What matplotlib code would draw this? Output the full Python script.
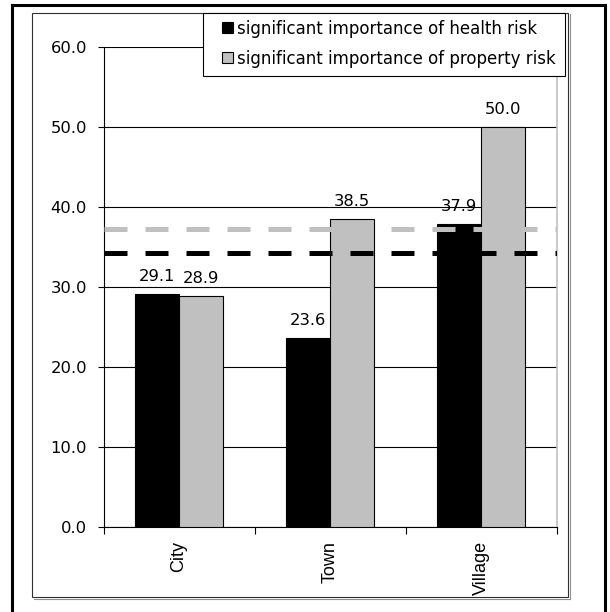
import matplotlib
matplotlib.use("Agg")
import matplotlib.pyplot as plt
from matplotlib.patches import Rectangle
from matplotlib.lines import Line2D
from matplotlib.legend_handler import HandlerPatch
import numpy as np

# ---- data -------------------------------------------------------------
categories = ["City", "Town", "Village"]
health_risk = [29.1, 23.6, 37.9]
property_risk = [28.9, 38.5, 50.0]
health_avg = 34.2
property_avg = 37.2
series_labels = ["significant importance of health risk",
                 "significant importance of property risk"]
y_ticks = [0, 10, 20, 30, 40, 50, 60]

# ---- styling ----------------------------------------------------------
plt.rcParams["font.family"] = ["DejaVu Sans"]
FS = 11.8
GREY = "#c0c0c0"
W, H = 610, 612

fig = plt.figure(figsize=(W / 100, H / 100), dpi=100)


def box(x0, y0, x1, y1):
    """Pixel box (top-left origin) -> figure-fraction rect."""
    return [x0 / W, 1 - y1 / H, (x1 - x0) / W, (y1 - y0) / H]


ax = fig.add_axes(box(103.5, 47, 556.5, 527))

x = np.arange(len(categories))
bw = 0.29
b1 = ax.bar(x - bw / 2, health_risk, bw, color="black", edgecolor="black",
            linewidth=0.8, zorder=3, label=series_labels[0])
b2 = ax.bar(x + bw / 2, property_risk, bw, color=GREY, edgecolor="black",
            linewidth=0.8, zorder=3, label=series_labels[1])

# average reference lines
ax.axhline(property_avg, color=GREY, linewidth=3.6,
           linestyle=(0, (4.6, 3.6)), zorder=4)
ax.axhline(health_avg, color="black", linewidth=3.6,
           linestyle=(0, (4.6, 3.6)), zorder=4)

# value labels
for bars, vals in ((b1, health_risk), (b2, property_risk)):
    for rect, v in zip(bars, vals):
        ax.annotate(f"{v:.1f}", (rect.get_x() + rect.get_width() / 2, v),
                    xytext=(0, 7), textcoords="offset points",
                    ha="center", va="bottom", fontsize=FS, zorder=5)

# y axis
ax.set_ylim(0, 60)
ax.set_yticks(y_ticks)
ax.set_yticklabels([f"{t:.1f}" for t in y_ticks])
ax.yaxis.grid(True, color="black", linewidth=0.8)
ax.set_axisbelow(True)
ax.tick_params(axis="y", length=4.3, width=0.8, pad=7.5, labelsize=FS)

# x axis: ticks between categories, labels at category centres
ax.set_xlim(-0.5, len(categories) - 0.5)
ax.set_xticks(np.arange(len(categories) + 1) - 0.5)
ax.set_xticklabels([])
ax.set_xticks(x, minor=True)
ax.set_xticklabels(categories, minor=True, rotation=90,
                   fontfamily="Liberation Sans", fontsize=13)
ax.tick_params(axis="x", which="major", length=5, width=0.8)
ax.tick_params(axis="x", which="minor", length=0, pad=10)

ax.spines["top"].set_visible(False)
ax.spines["right"].set_color(GREY)
ax.spines["right"].set_linewidth(1.2)
for s in ("left", "bottom"):
    ax.spines[s].set_linewidth(0.8)


# legend: framed box with small square keys
def square_key(legend, orig_handle, xdescent, ydescent, width, height, fontsize):
    s = 7.9
    return Rectangle((-xdescent + width - s, -ydescent + (height - s) / 2), s, s)


fig.add_artist(Rectangle((203 / W, 1 - 76 / H), (565 - 203) / W, (76 - 12.5) / H,
                         transform=fig.transFigure, facecolor="white",
                         edgecolor="black", linewidth=0.8, zorder=5))
leg = fig.legend(handles=[b1.patches[0], b2.patches[0]], labels=series_labels,
                 loc="upper left", bbox_to_anchor=(222 / W, 1 - 19.5 / H),
                 bbox_transform=fig.transFigure, borderaxespad=0, borderpad=0,
                 fontsize=12, frameon=False, handlelength=0.66,
                 handletextpad=0.25, labelspacing=0.72,
                 handler_map={Rectangle: HandlerPatch(patch_func=square_key)})
leg.set_zorder(6)

# chart-area frame with a light shadow
fig.add_artist(Rectangle((32 / W, 1 - 597 / H), (568 - 32) / W, (597 - 12.5) / H,
                         transform=fig.transFigure, fill=False,
                         edgecolor="#303030", linewidth=0.8))
fig.add_artist(Line2D([570 / W, 570 / W], [1 - 14 / H, 1 - 599 / H],
                      transform=fig.transFigure, color="#909090", linewidth=0.8))
fig.add_artist(Line2D([34 / W, 570 / W], [1 - 599 / H, 1 - 599 / H],
                      transform=fig.transFigure, color="#909090", linewidth=0.8))

# outer border
for xs, ys in (([12.5, 12.5], [4.5, 620]),
               ([12.5, 605], [4.5, 4.5]),
               ([605, 605], [4.5, 620])):
    fig.add_artist(Line2D([v / W for v in xs], [1 - v / H for v in ys],
                          transform=fig.transFigure, color="black",
                          linewidth=2.2, solid_capstyle="projecting"))

fig.savefig("out.png", dpi=100, facecolor="white")
